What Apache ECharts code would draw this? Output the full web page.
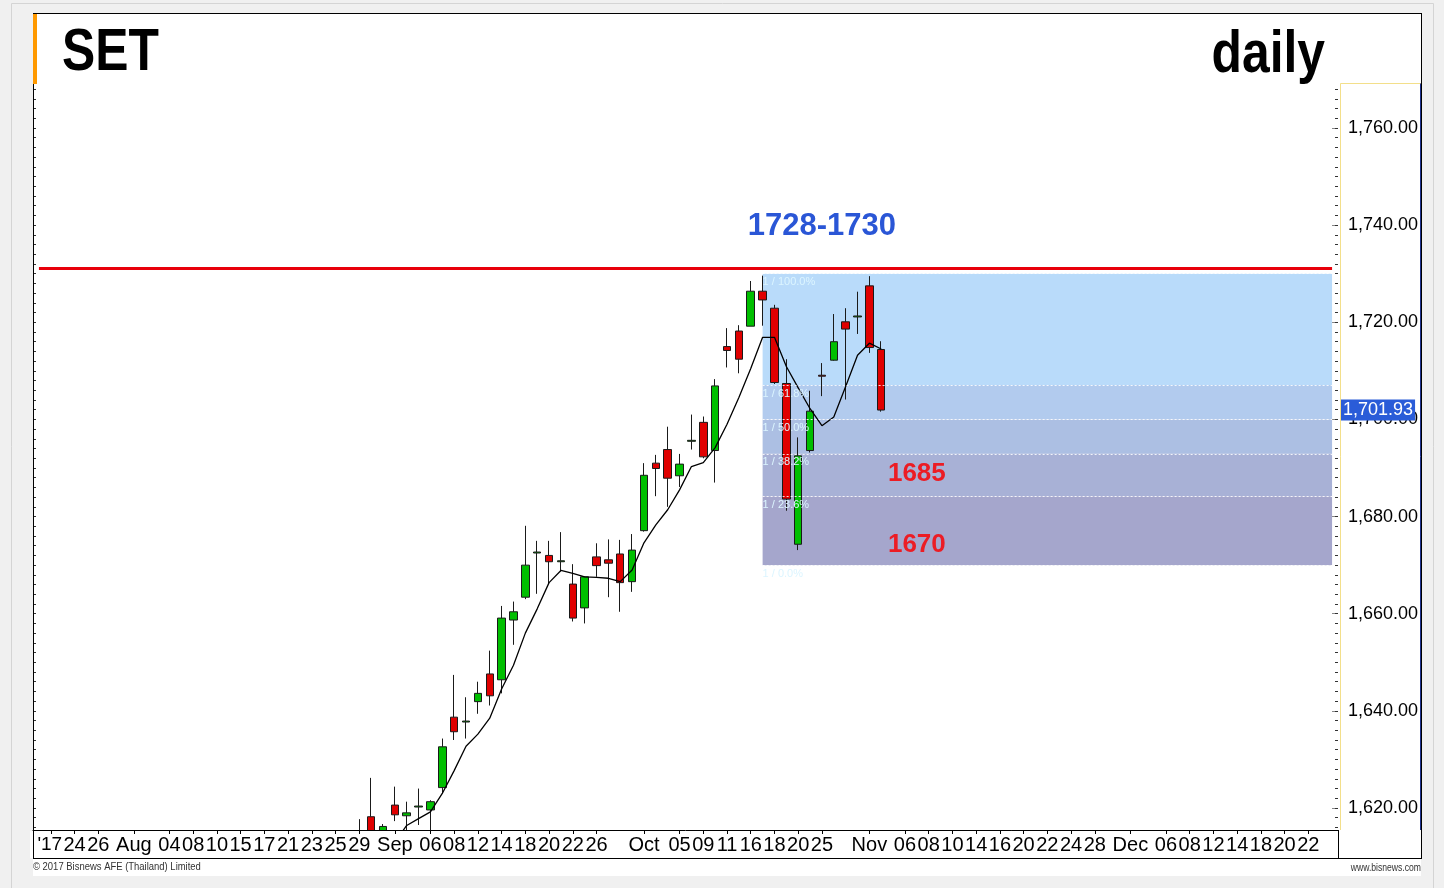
<!DOCTYPE html>
<html>
<head>
<meta charset="utf-8">
<title>SET daily</title>
<script src="https://cdn.jsdelivr.net/npm/echarts@6/dist/echarts.min.js"></script>
<style>
  html, body { margin: 0; padding: 0; background: #f0f0f0; }
  #chart { width: 1444px; height: 888px; }
</style>
</head>
<body>
<div id="chart"></div>
<script>
// trading days on the axis (2017), the last ones are future days
const days = [
  '07-19','07-20','07-21','07-24','07-25','07-26','07-27','07-31',
  '08-01','08-02','08-03','08-04','08-07','08-08','08-09','08-10','08-11','08-15','08-16','08-17','08-18',
  '08-21','08-22','08-23','08-24','08-25','08-28','08-29','08-30','08-31',
  '09-01','09-04','09-05','09-06','09-07','09-08','09-11','09-12','09-13','09-14','09-15','09-18','09-19',
  '09-20','09-21','09-22','09-25','09-26','09-27','09-28','09-29',
  '10-02','10-03','10-04','10-05','10-06','10-09','10-10','10-11','10-12','10-16','10-17','10-18','10-19',
  '10-20','10-24','10-25','10-27','10-30','10-31',
  '11-01','11-02','11-03','11-06','11-07','11-08','11-09','11-10','11-13','11-14','11-15','11-16','11-17',
  '11-20','11-21','11-22','11-23','11-24','11-27','11-28','11-29','11-30',
  '12-01','12-04','12-05','12-06','12-07','12-08','12-11','12-12','12-13','12-14','12-15','12-18','12-19',
  '12-20','12-21','12-22','12-25','12-26'
];

// labelled days on the x axis
const tickDays = ['07-20','07-24','07-26','08-01','08-04','08-08','08-10','08-15','08-17','08-21','08-23','08-25','08-29',
  '09-01','09-06','09-08','09-12','09-14','09-18','09-20','09-22','09-26',
  '10-02','10-05','10-09','10-11','10-16','10-18','10-20','10-25',
  '11-01','11-06','11-08','11-10','11-14','11-16','11-20','11-22','11-24','11-28',
  '12-01','12-06','12-08','12-12','12-14','12-18','12-20','12-22'];
const tickTexts = ["'17",'24','26','Aug','04','08','10','15','17','21','23','25','29',
  'Sep','06','08','12','14','18','20','22','26',
  'Oct','05','09','11','16','18','20','25',
  'Nov','06','08','10','14','16','20','22','24','28',
  'Dec','06','08','12','14','18','20','22'];

const yTicks = [1620, 1640, 1660, 1680, 1700, 1720, 1740, 1760];

// candles, 29 Aug .. 2 Nov
const candleDays = days.slice(days.indexOf('08-29'), days.indexOf('11-02') + 1);
const opens  = [1613, 1618.2, 1614.5, 1620.6, 1618.4, 1620.2, 1619.6, 1624.2, 1638.7, 1637.7,
                1641.9, 1647.6, 1646.4, 1658.7, 1663.4, 1672.5, 1672.0, 1670.7, 1666.1, 1661.2,
                1671.7, 1671.1, 1672.3, 1666.6, 1677.1, 1691.0, 1693.8, 1688.4, 1695.5, 1699.4,
                1693.6, 1715.0, 1718.2, 1719.2, 1726.4, 1722.9, 1707.4, 1674.3, 1693.6, 1709.1,
                1712.2, 1720.1, 1721.1, 1727.5, 1714.4];
const closes = [1614, 1614.0, 1616.2, 1618.6, 1619.0, 1620.4, 1621.3, 1632.6, 1635.7, 1637.9,
                1643.6, 1643.1, 1659.1, 1660.4, 1670.0, 1672.7, 1670.7, 1670.9, 1659.1, 1667.6,
                1669.9, 1670.4, 1666.4, 1673.1, 1688.5, 1689.9, 1687.9, 1690.8, 1695.7, 1692.3,
                1706.9, 1714.2, 1712.4, 1726.4, 1724.6, 1707.6, 1683.6, 1692.5, 1701.7, 1708.9,
                1716.0, 1718.6, 1721.3, 1714.8, 1701.93];
const lows   = [1610, 1612, 1613, 1617.3, 1614.5, 1616.5, 1614.5, 1623.0, 1634.0, 1634.3,
                1639.4, 1641.1, 1643.6, 1653.6, 1663.0, 1664.1, 1666.3, 1668.7, 1658.4, 1658.0,
                1667.6, 1663.4, 1660.4, 1664.5, 1676.9, 1684.2, 1682.0, 1686.1, 1693.8, 1692.0,
                1687.0, 1710.7, 1709.5, 1719.2, 1719.3, 1707.3, 1681.2, 1673.1, 1693.2, 1704.8,
                1712.1, 1704.1, 1717.6, 1713.7, 1701.6];
const highs  = [1617.7, 1626.2, 1616.7, 1624.4, 1621.3, 1624.0, 1621.6, 1634.3, 1647.4, 1642.8,
                1646.0, 1652.4, 1661.6, 1662.5, 1678.1, 1675.0, 1675.0, 1676.8, 1670.2, 1667.6,
                1674.5, 1675.3, 1675.2, 1676.4, 1691.0, 1692.7, 1698.5, 1692.9, 1701.0, 1700.6,
                1708.3, 1718.8, 1719.4, 1728.5, 1729.6, 1723.6, 1712.4, 1696.3, 1705.9, 1711.6,
                1721.7, 1722.9, 1726.3, 1729.5, 1716.1];
// moving average line
const maValues = ['-', '-', '-', 1613, 1616.4, 1617.8, 1619.2, 1623.0, 1627.7, 1632.7,
                  1635.2, 1638.5, 1644.5, 1649.4, 1656.0, 1661.0, 1666.4, 1668.9, 1668.3, 1667.6,
                  1667.5, 1667.3, 1666.6, 1669.0, 1674.6, 1678.3, 1681.4, 1685.5, 1690.3, 1691.1,
                  1694.2, 1699.0, 1704.5, 1710.5, 1716.9, 1716.9, 1710.9, 1706.5, 1702.2, 1698.7,
                  1700.5, 1706.8, 1713.2, 1715.7, 1714.5];

// resistance line and fibonacci retracement
const resistance = 1731.2;
const lastClose = 1701.93;
const fibStart = '10-17';
const fibEnd = '12-26';
const fibHigh = 1730;
const fibLow = 1670;
const fibRatios = [1, 0.618, 0.5, 0.382, 0.236, 0];
const fibTexts = ['1 / 100.0%', '1 / 61.8%', '1 / 50.0%', '1 / 38.2%', '1 / 23.6%', '1 / 0.0%'];
const fibColors = ['#b9dbfa', '#b2cbee', '#acbfe3', '#a8b1d6', '#a5a6cc'];

// notes on the chart
const noteTexts = ['1728-1730', '1685', '1670'];
const noteDays = ['10-25', '11-07', '11-07'];
const noteValues = [1739.8, 1688.8, 1674.1];

const yMin = 1615.47, yMax = 1769.06;
const sans = "'Liberation Sans', Arial, sans-serif";

const tickMap = {};
tickDays.forEach((d, i) => { tickMap[d] = tickTexts[i]; });

const candleData = days.map(d => {
  const i = candleDays.indexOf(d);
  return i < 0 ? '-' : [opens[i], closes[i], lows[i], highs[i]];
});
const maData = days.map(d => {
  const i = candleDays.indexOf(d);
  return i < 0 ? '-' : maValues[i];
});

const fibLevels = fibRatios.map(r => fibLow + (fibHigh - fibLow) * r);

const fibAreas = fibColors.map((c, i) => [
  { xAxis: fibStart, yAxis: fibLevels[i], itemStyle: { color: c } },
  { xAxis: fibEnd, yAxis: fibLevels[i + 1] }
]);
const fibLines = fibLevels.map((v, i) => [
  {
    coord: [fibStart, v],
    lineStyle: { color: 'rgba(255,255,255,0.85)', width: 1, type: [2, 2] },
    label: { show: true, position: 'insideStartBottom', formatter: fibTexts[i], color: '#dcf5ff', fontSize: 11, distance: [0, 3] }
  },
  { coord: [fibEnd, v] }
]);

const minorTicks = [];
for (let v = 1616; v <= 1768; v += 2) minorTicks.push(v);

const chart = echarts.init(document.getElementById('chart'), null, { renderer: 'canvas' });

chart.setOption({
  animation: false,
  backgroundColor: '#f0f0f0',
  textStyle: { fontFamily: sans },
  graphic: [
    { type: 'rect', z: -10, shape: { x: 11.5, y: 3.5, width: 1422, height: 890 }, style: { fill: '#f0f0f0', stroke: '#d4d4d4', lineWidth: 1 } },
    { type: 'rect', z: -9, shape: { x: 33, y: 13, width: 1388, height: 863 }, style: { fill: '#ffffff' } },
    // white strip under the plot so candles cut at the axis
    { type: 'rect', z: 3, shape: { x: 30, y: 831, width: 1310, height: 27 }, style: { fill: '#ffffff' } },
    { type: 'line', z: 5, shape: { x1: 33, y1: 13.5, x2: 1421, y2: 13.5 }, style: { stroke: '#000', lineWidth: 1 } },
    { type: 'line', z: 5, shape: { x1: 33.5, y1: 13, x2: 33.5, y2: 859 }, style: { stroke: '#000', lineWidth: 1 } },
    { type: 'line', z: 5, shape: { x1: 1421.5, y1: 13, x2: 1421.5, y2: 859 }, style: { stroke: '#000', lineWidth: 1 } },
    { type: 'line', z: 5, shape: { x1: 33, y1: 858.5, x2: 1421, y2: 858.5 }, style: { stroke: '#000', lineWidth: 1 } },
    { type: 'line', z: 5, shape: { x1: 1338.5, y1: 830, x2: 1338.5, y2: 858 }, style: { stroke: '#000', lineWidth: 1 } },
    { type: 'line', z: 5, shape: { x1: 1340.5, y1: 83.5, x2: 1421, y2: 83.5 }, style: { stroke: '#f3df8a', lineWidth: 1 } },
    { type: 'line', z: 5, shape: { x1: 1340.5, y1: 83.5, x2: 1340.5, y2: 830 }, style: { stroke: '#f3df8a', lineWidth: 1 } },
    { type: 'line', z: 6, shape: { x1: 1420.5, y1: 83.5, x2: 1420.5, y2: 830 }, style: { stroke: '#1c2f8c', lineWidth: 1 } },
    { type: 'rect', z: 7, shape: { x: 33, y: 14, width: 4, height: 70 }, style: { fill: '#ff9900' } },
    { type: 'text', z: 5, x: 62, y: 53, scaleX: 0.83, style: { x: 0, y: 0, text: 'SET', font: 'bold 60px ' + sans, fill: '#000', textVerticalAlign: 'middle' } },
    { type: 'text', z: 5, x: 1325, y: 55, scaleX: 0.83, style: { x: 0, y: 0, text: 'daily', font: 'bold 60px ' + sans, fill: '#000', textAlign: 'right', textVerticalAlign: 'middle' } },
    { type: 'text', z: 5, x: 33, y: 867, scaleX: 0.86, style: { x: 0, y: 0, text: '© 2017 Bisnews AFE (Thailand) Limited', font: '11px ' + sans, fill: '#333', textVerticalAlign: 'middle' } },
    { type: 'text', z: 5, x: 1421, y: 868, scaleX: 0.86, style: { x: 0, y: 0, text: 'www.bisnews.com', font: '10px ' + sans, fill: '#333', textAlign: 'right', textVerticalAlign: 'middle' } }
  ],
  grid: { left: 33, right: 106, top: 84, bottom: 58, containLabel: false },
  xAxis: {
    type: 'category',
    data: days,
    boundaryGap: true,
    z: 10,
    axisLine: { show: true, lineStyle: { color: '#000', width: 1 } },
    axisTick: {
      show: true, alignWithLabel: true, length: 4,
      interval: (i, v) => tickMap[v] !== undefined,
      lineStyle: { color: '#000' }
    },
    axisLabel: {
      interval: (i, v) => tickMap[v] !== undefined,
      showMinLabel: true, showMaxLabel: true,
      formatter: (v, i) => i === 1 ? '{yr|' + tickMap[v] + '}' : (tickMap[v] || ''),
      rich: { yr: { fontSize: 19, color: '#000', fontFamily: sans, padding: [0, 2, 0, 0] } },
      color: '#000', fontSize: 20, margin: 5, fontFamily: sans
    },
    splitLine: { show: false }
  },
  yAxis: [
    {
      type: 'value', position: 'right', min: yMin, max: yMax, scale: true,
      axisLine: { show: false },
      axisTick: { show: true, inside: true, length: 6, customValues: yTicks, lineStyle: { color: '#888' } },
      axisLabel: {
        customValues: yTicks, color: '#000', fontSize: 18, margin: 10, padding: [4, 0, 0, 0],
        formatter: v => v.toLocaleString('en-US', { minimumFractionDigits: 2, maximumFractionDigits: 2 })
      },
      splitLine: { show: false }
    },
    {
      type: 'value', position: 'right', min: yMin, max: yMax, scale: true,
      axisLine: { show: false },
      axisTick: { show: true, inside: true, length: 3, customValues: minorTicks, lineStyle: { color: '#333' } },
      axisLabel: { show: false },
      splitLine: { show: false }
    },
    {
      type: 'value', position: 'left', min: yMin, max: yMax, scale: true,
      axisLine: { show: true, lineStyle: { color: '#000' } },
      axisTick: { show: true, inside: true, length: 3, customValues: minorTicks, lineStyle: { color: '#333' } },
      axisLabel: { show: false },
      splitLine: { show: false }
    }
  ],
  series: [
    {
      name: 'SET',
      type: 'candlestick',
      data: candleData,
      barWidth: 8,
      clip: true,
      itemStyle: {
        color: '#00bf00', color0: '#e00000',
        borderColor: '#1a1a1a', borderColor0: '#1a1a1a', borderWidth: 1
      },
      markArea: {
        silent: true,
        z: 1,
        data: fibAreas
      },
      markLine: {
        silent: true,
        symbol: ['none', 'none'],
        data: [
          [
            { coord: [days[0], resistance], lineStyle: { color: '#e8000b', width: 3, type: 'solid' }, label: { show: false } },
            { coord: [days[days.length - 1], resistance] }
          ],
          ...fibLines,
          {
            yAxis: lastClose,
            lineStyle: { color: 'rgba(0,0,0,0)', width: 0 },
            label: {
              show: true, position: 'end', formatter: '1,701.93', distance: 3,
              color: '#fff', backgroundColor: '#2a5cd8', fontSize: 18, padding: [2, 2, 1, 2]
            }
          }
        ]
      },
      markPoint: {
        silent: true,
        symbol: 'circle',
        symbolSize: 0,
        data: noteTexts.map((t, i) => ({
          coord: [noteDays[i], noteValues[i]],
          label: {
            show: true, position: 'inside', formatter: t,
            color: i === 0 ? '#2a56d6' : '#ec1c24',
            fontSize: i === 0 ? 31 : 26, fontWeight: 'bold', fontFamily: sans
          }
        }))
      }
    },
    {
      name: 'MA',
      type: 'line',
      data: maData,
      symbol: 'none',
      clip: true,
      lineStyle: { color: '#000', width: 1.3 },
      z: 3
    }
  ]
});
</script>
</body>
</html>
